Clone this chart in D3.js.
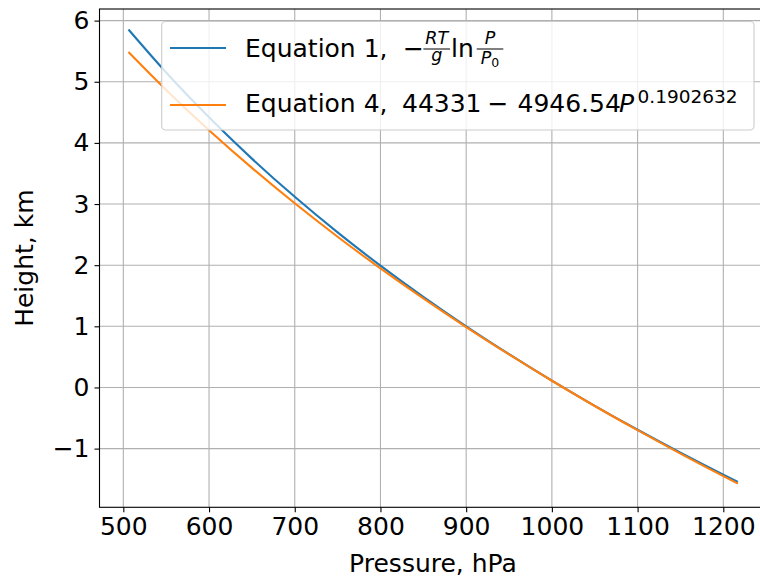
<!DOCTYPE html>
<html>
<head>
<meta charset="utf-8">
<script src="https://cdn.jsdelivr.net/npm/d3@7"></script>
<style>
body { margin: 0; background: #fff; }
text { font-family: "DejaVu Sans", sans-serif; fill: #000; }
</style>
</head>
<body>
<div id="chart"></div>
<script>
// values (pressure in hPa, height in km)
var pressure = [506, 550, 600, 650, 700, 750, 800, 850, 900, 950, 1000, 1050, 1100, 1150, 1200, 1217];
var eq1 = [5.854, 5.151, 4.418, 3.743, 3.118, 2.536, 1.992, 1.481, 0.999, 0.544, 0.111, -0.300, -0.692, -1.067, -1.426, -1.544];
var eq4 = [5.486, 4.865, 4.207, 3.591, 3.012, 2.465, 1.948, 1.457, 0.988, 0.540, 0.110, -0.303, -0.699, -1.082, -1.451, -1.573];
var xticks = [500, 600, 700, 800, 900, 1000, 1100, 1200];
var yticks = [-1, 0, 1, 2, 3, 4, 5, 6];

var W = 760, H = 579;
var padL = 99.5, padR = 766.5, padT = 9, padB = 507.3;
var fs = 25;

var svg = d3.select("#chart").append("svg")
    .attr("width", W)
    .attr("height", H);

var x = d3.scaleLinear().domain([472.2, 1250.4]).range([padL, padR]);
var y = d3.scaleLinear().domain([-1.96, 6.19]).range([padB, padT]);

// grid
svg.append("g").selectAll("line").data(xticks).enter().append("line")
    .attr("x1", d => x(d)).attr("x2", d => x(d))
    .attr("y1", padT).attr("y2", padB)
    .attr("stroke", "#b0b0b0").attr("stroke-width", 1.1);
svg.append("g").selectAll("line").data(yticks).enter().append("line")
    .attr("x1", padL).attr("x2", padR)
    .attr("y1", d => y(d)).attr("y2", d => y(d))
    .attr("stroke", "#b0b0b0").attr("stroke-width", 1.1);

// curves
var line = d3.line()
    .x(d => x(d[0]))
    .y(d => y(d[1]))
    .curve(d3.curveMonotoneX);

svg.append("path")
    .attr("d", line(d3.zip(pressure, eq1)))
    .attr("fill", "none").attr("stroke", "#1f77b4").attr("stroke-width", 2.1);
svg.append("path")
    .attr("d", line(d3.zip(pressure, eq4)))
    .attr("fill", "none").attr("stroke", "#ff7f0e").attr("stroke-width", 2.1);

// axes
var xAxis = svg.append("g")
    .attr("transform", "translate(0," + padB + ")")
    .call(d3.axisBottom(x).tickValues(xticks).tickSize(5).tickPadding(5).tickFormat(d3.format("d")));
var yAxis = svg.append("g")
    .attr("transform", "translate(" + padL + ",0)")
    .call(d3.axisLeft(y).tickValues(yticks).tickSize(5).tickPadding(5).tickFormat(d => d < 0 ? "\u2212" + Math.abs(d) : d));
[xAxis, yAxis].forEach(function (g) {
  g.selectAll("text").style("font-size", fs + "px").style("font-family", "DejaVu Sans");
  g.selectAll("line").attr("stroke", "#000").attr("stroke-width", 1.1);
  g.select(".domain").remove();
});

// spines
svg.append("rect")
    .attr("x", padL).attr("y", padT)
    .attr("width", padR - padL).attr("height", padB - padT)
    .attr("fill", "none").attr("stroke", "#000").attr("stroke-width", 1.1);

// axis labels
svg.append("text")
    .attr("x", (padL + padR) / 2).attr("y", 571.7)
    .attr("text-anchor", "middle")
    .style("font-size", fs + "px")
    .text("Pressure, hPa");
svg.append("text")
    .attr("transform", "translate(33," + (padT + padB) / 2 + ") rotate(-90)")
    .attr("text-anchor", "middle")
    .style("font-size", fs + "px")
    .text("Height, km");

// legend
var leg = svg.append("g");
leg.append("rect")
    .attr("x", 161.7).attr("y", 21.5)
    .attr("width", 754 - 161.7).attr("height", 130 - 21.5)
    .attr("rx", 4).attr("ry", 4)
    .attr("fill", "#fff").attr("fill-opacity", 0.8)
    .attr("stroke", "#cccccc").attr("stroke-width", 1.1);

leg.append("line")
    .attr("x1", 170).attr("x2", 226).attr("y1", 48).attr("y2", 48)
    .attr("stroke", "#1f77b4").attr("stroke-width", 2.1);
leg.append("line")
    .attr("x1", 170).attr("x2", 226).attr("y1", 105).attr("y2", 105)
    .attr("stroke", "#ff7f0e").attr("stroke-width", 2.1);

// row 1: Equation 1, -RT/g ln P/P0
var b1 = 56.7;
leg.append("text").attr("x", 245).attr("y", b1).style("font-size", fs + "px")
    .text("Equation 1,");
leg.append("text").attr("x", 403).attr("y", b1).style("font-size", fs + "px")
    .text("\u2212");
function frac(cx, num, den, sub) {
  leg.append("text").attr("x", cx).attr("y", 44).attr("text-anchor", "middle")
      .style("font-size", "17.5px").style("font-style", "italic").text(num);
  leg.append("line").attr("x1", cx - 13.3).attr("x2", cx + 13.3).attr("y1", 49).attr("y2", 49)
      .attr("stroke", "#000").attr("stroke-width", 1);
  var t = leg.append("text").attr("x", cx).attr("y", sub ? 63.5 : 61).attr("text-anchor", "middle")
      .style("font-size", "17.5px");
  t.append("tspan").style("font-style", "italic").text(den);
  if (sub) t.append("tspan").attr("dy", 3).style("font-size", "12.5px").text(sub);
}
frac(436.7, "RT", "g");
leg.append("text").attr("x", 451).attr("y", b1).style("font-size", fs + "px").text("ln");
frac(490, "P", "P", "0");

// row 2: Equation 4, 44331 - 4946.54 P^0.1902632
var b2 = 111.7;
var t2 = leg.append("text").attr("y", b2).style("font-size", fs + "px");
t2.append("tspan").attr("x", 245).text("Equation 4,");
t2.append("tspan").attr("x", 402).text("44331");
t2.append("tspan").attr("x", 487.5).text("\u2212");
t2.append("tspan").attr("x", 517.5).text("4946.54");
t2.append("tspan").attr("x", 619).style("font-style", "italic").text("P");
t2.append("tspan").attr("x", 637.5).attr("dy", -9).style("font-size", "18.5px").text("0.1902632");
</script>
</body>
</html>
